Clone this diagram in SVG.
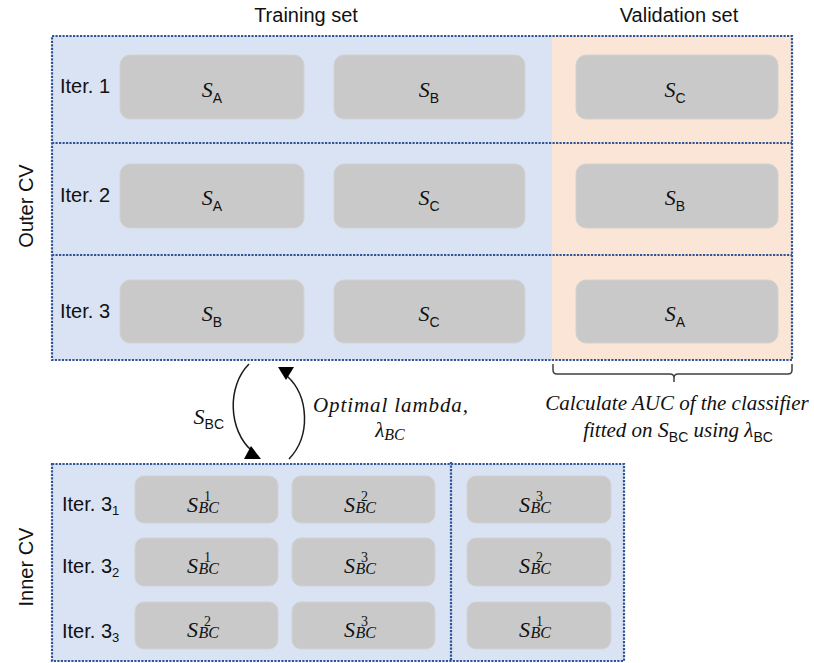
<svg xmlns="http://www.w3.org/2000/svg" width="814" height="663" viewBox="0 0 814 663">
<style>
.bg{fill:#FFFFFF}
.blue{fill:#DAE3F3}
.peach{fill:#FBE5D6}
.dot{fill:none;stroke:#2F5597;stroke-width:2.2;stroke-dasharray:2.2 1.3}
.box{fill:#C9C9C9;stroke:#D2D2D2;stroke-width:1}
.lbl{font-family:"Liberation Sans",Arial,sans-serif;font-size:20px;fill:#111}
.hdr{font-family:"Liberation Sans",Arial,sans-serif;font-size:20px;fill:#111;text-anchor:middle}
.lsub{font-family:"Liberation Sans",Arial,sans-serif;font-size:13px;fill:#111}
.mi{font-family:"Liberation Serif","Times New Roman",serif;font-style:italic;font-size:22px;fill:#111}
.ms{font-family:"Liberation Serif","Times New Roman",serif;font-style:italic;font-size:16px;fill:#111}
.mn{font-family:"Liberation Serif","Times New Roman",serif;font-style:normal;font-size:14px;fill:#111}
.sub{font-family:"Liberation Sans",Arial,sans-serif;font-style:normal;font-size:14px;fill:#111}
.it{font-family:"Liberation Serif","Times New Roman",serif;font-style:italic;font-size:21px;fill:#111}
.arc{fill:none;stroke:#1A1A1A;stroke-width:1.5}
.head{fill:#000}
.brace{fill:none;stroke:#404040;stroke-width:1.5}
</style>
<rect class="bg" x="0" y="0" width="814" height="663"/>

<!-- headers and side labels -->
<text class="hdr" x="306" y="22">Training set</text>
<text class="hdr" x="679" y="22">Validation set</text>
<text class="hdr" transform="translate(33,206) rotate(-90)">Outer CV</text>
<text class="hdr" transform="translate(33,567) rotate(-90)">Inner CV</text>

<!-- outer CV frame -->
<g id="outer-cv">
<rect class="blue" x="52" y="36" width="500" height="324"/>
<rect class="peach" x="552" y="36" width="240" height="324"/>
<rect class="dot" x="52" y="36" width="740" height="324"/>
<line class="dot" x1="52" y1="143" x2="792" y2="143"/>
<line class="dot" x1="52" y1="255" x2="792" y2="255"/>
</g>

<g id="outer-iter1">
<text class="lbl" x="60" y="93">Iter. 1</text>
<rect class="box" x="120" y="55" width="184" height="64" rx="10"/>
<text x="212" y="97" text-anchor="middle"><tspan class="mi">S</tspan><tspan class="sub" dy="6">A</tspan></text>
<rect class="box" x="334" y="55" width="191" height="64" rx="10"/>
<text x="429" y="97" text-anchor="middle"><tspan class="mi">S</tspan><tspan class="sub" dy="6">B</tspan></text>
<rect class="box" x="576" y="55" width="202" height="64" rx="10"/>
<text x="675" y="97" text-anchor="middle"><tspan class="mi">S</tspan><tspan class="sub" dy="6">C</tspan></text>
</g>

<g id="outer-iter2">
<text class="lbl" x="60" y="202">Iter. 2</text>
<rect class="box" x="120" y="164" width="184" height="64" rx="10"/>
<text x="212" y="205" text-anchor="middle"><tspan class="mi">S</tspan><tspan class="sub" dy="6">A</tspan></text>
<rect class="box" x="334" y="164" width="191" height="64" rx="10"/>
<text x="429" y="205" text-anchor="middle"><tspan class="mi">S</tspan><tspan class="sub" dy="6">C</tspan></text>
<rect class="box" x="576" y="164" width="202" height="64" rx="10"/>
<text x="675" y="205" text-anchor="middle"><tspan class="mi">S</tspan><tspan class="sub" dy="6">B</tspan></text>
</g>

<g id="outer-iter3">
<text class="lbl" x="60" y="318">Iter. 3</text>
<rect class="box" x="120" y="280" width="184" height="63" rx="10"/>
<text x="212" y="321" text-anchor="middle"><tspan class="mi">S</tspan><tspan class="sub" dy="6">B</tspan></text>
<rect class="box" x="334" y="280" width="191" height="63" rx="10"/>
<text x="429" y="321" text-anchor="middle"><tspan class="mi">S</tspan><tspan class="sub" dy="6">C</tspan></text>
<rect class="box" x="576" y="280" width="202" height="63" rx="10"/>
<text x="675" y="321" text-anchor="middle"><tspan class="mi">S</tspan><tspan class="sub" dy="6">A</tspan></text>
</g>

<!-- validation brace and note -->
<g id="auc-note">
<path class="brace" d="M553,364 V370 Q553,374 557,374 H670 Q674,374 674,378 V382 M674,378 Q674,374 678,374 H788 Q792,374 792,370 V364"/>
<text class="it" x="677" y="410" text-anchor="middle">Calculate AUC of the classifier</text>
<text class="it" x="678" y="437" text-anchor="middle">fitted on <tspan class="mi" font-size="21px">S</tspan><tspan class="sub" dy="5">BC</tspan><tspan dy="-5"> using λ</tspan><tspan class="sub" dy="5">BC</tspan></text>
</g>

<!-- connectors -->
<g id="connectors">
<path class="arc" d="M249,364 C227,386 228,430 252,451"/>
<polygon class="head" points="251,446 261,459 244,459"/>
<path class="arc" d="M289,459 C311,436 309,396 287,376"/>
<polygon class="head" points="278,367 294,367 286,380"/>
<text x="224" y="424" text-anchor="end"><tspan class="mi">S</tspan><tspan class="sub" dy="5">BC</tspan></text>
<text class="it" x="313" y="412" font-size="22px" textLength="155">Optimal lambda,</text>
<text x="390" y="437" text-anchor="middle"><tspan class="it" font-size="22px">λ</tspan><tspan class="ms" dy="3">BC</tspan></text>
</g>

<!-- inner CV frame -->
<g id="inner-cv">
<rect class="blue" x="52" y="464" width="572" height="197"/>
<rect class="dot" x="52" y="464" width="572" height="197"/>
<line class="dot" x1="451" y1="462" x2="451" y2="661"/>
</g>

<g id="inner-iter1">
<text class="lbl" x="62" y="511">Iter. 3<tspan class="lsub" dy="4">1</tspan></text>
<rect class="box" x="135" y="476" width="143" height="47" rx="9"/>
<text x="187" y="512"><tspan class="mi">S</tspan><tspan class="ms" dx="0.5" dy="1">BC</tspan><tspan class="mn" x="204" dy="-12">1</tspan></text>
<rect class="box" x="292" y="476" width="143" height="47" rx="9"/>
<text x="344" y="512"><tspan class="mi">S</tspan><tspan class="ms" dx="0.5" dy="1">BC</tspan><tspan class="mn" x="361" dy="-12">2</tspan></text>
<rect class="box" x="467" y="476" width="144" height="47" rx="9"/>
<text x="519" y="512"><tspan class="mi">S</tspan><tspan class="ms" dx="0.5" dy="1">BC</tspan><tspan class="mn" x="536" dy="-12">3</tspan></text>
</g>

<g id="inner-iter2">
<text class="lbl" x="62" y="573">Iter. 3<tspan class="lsub" dy="4">2</tspan></text>
<rect class="box" x="135" y="538" width="143" height="48" rx="9"/>
<text x="187" y="573"><tspan class="mi">S</tspan><tspan class="ms" dx="0.5" dy="1">BC</tspan><tspan class="mn" x="204" dy="-12">1</tspan></text>
<rect class="box" x="292" y="538" width="143" height="48" rx="9"/>
<text x="344" y="573"><tspan class="mi">S</tspan><tspan class="ms" dx="0.5" dy="1">BC</tspan><tspan class="mn" x="361" dy="-12">3</tspan></text>
<rect class="box" x="467" y="538" width="144" height="48" rx="9"/>
<text x="519" y="573"><tspan class="mi">S</tspan><tspan class="ms" dx="0.5" dy="1">BC</tspan><tspan class="mn" x="536" dy="-12">2</tspan></text>
</g>

<g id="inner-iter3">
<text class="lbl" x="62" y="638">Iter. 3<tspan class="lsub" dy="4">3</tspan></text>
<rect class="box" x="135" y="602" width="143" height="47" rx="9"/>
<text x="187" y="637"><tspan class="mi">S</tspan><tspan class="ms" dx="0.5" dy="1">BC</tspan><tspan class="mn" x="204" dy="-12">2</tspan></text>
<rect class="box" x="292" y="602" width="143" height="47" rx="9"/>
<text x="344" y="637"><tspan class="mi">S</tspan><tspan class="ms" dx="0.5" dy="1">BC</tspan><tspan class="mn" x="361" dy="-12">3</tspan></text>
<rect class="box" x="467" y="602" width="144" height="47" rx="9"/>
<text x="519" y="637"><tspan class="mi">S</tspan><tspan class="ms" dx="0.5" dy="1">BC</tspan><tspan class="mn" x="536" dy="-12">1</tspan></text>
</g>
</svg>
